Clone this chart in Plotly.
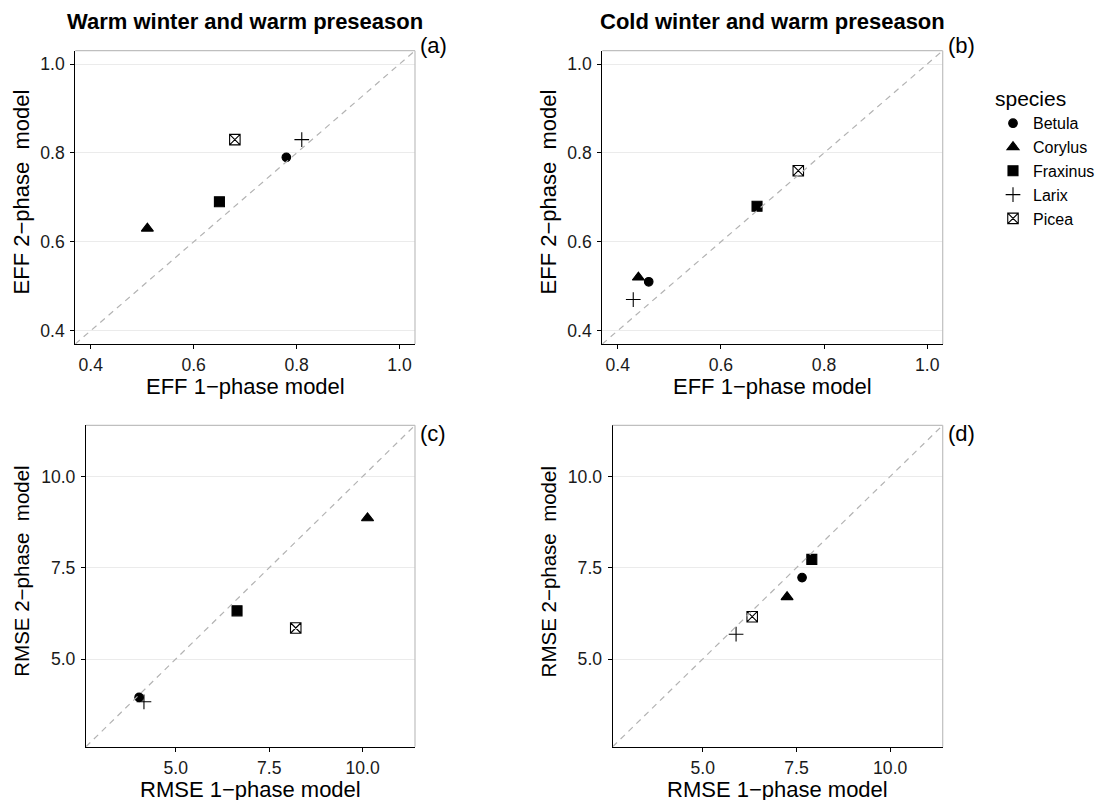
import plotly.graph_objects as go

W, H = 1103, 800
OFF = 8  # default page margin of the html body

species = ["Betula", "Corylus", "Fraxinus", "Larix", "Picea"]
symbols = ["circle", "triangle-up", "square", "cross-thin-open", "square-x-open"]
sizes = [8.6, 10.5, 10, 10.5, 10.5]

eff1_warm = [0.78, 0.51, 0.65, 0.81, 0.68]
eff2_warm = [0.79, 0.63, 0.69, 0.83, 0.83]
eff1_cold = [0.46, 0.44, 0.67, 0.43, 0.75]
eff2_cold = [0.51, 0.52, 0.68, 0.47, 0.76]
rmse1_warm = [4.02, 10.13, 6.64, 4.15, 8.21]
rmse2_warm = [3.95, 8.86, 6.32, 3.83, 5.85]
rmse1_cold = [7.65, 7.25, 7.91, 5.89, 6.32]
rmse2_cold = [7.23, 6.70, 7.73, 5.68, 6.16]

eff_ticks = [0.4, 0.6, 0.8, 1.0]
rmse_ticks = [5.0, 7.5, 10.0]
eff_range = [0.37, 1.03]
rmse_range = [2.6, 11.4]

titles = ["Warm winter and warm preseason", "Cold winter and warm preseason"]
tags = ["(a)", "(b)", "(c)", "(d)"]

FONT = "Liberation Sans, Arial, Helvetica, sans-serif"

# panel boxes in page pixels: left, right, top, bottom
boxes = [
    (75.3, 415.0, 50.7, 344.0),
    (602.3, 942.7, 50.7, 344.0),
    (86.0, 415.0, 425.3, 746.7),
    (612.7, 942.7, 425.3, 746.7),
]

panels = [
    (eff1_warm, eff2_warm, eff_range, eff_ticks, "EFF"),
    (eff1_cold, eff2_cold, eff_range, eff_ticks, "EFF"),
    (rmse1_warm, rmse2_warm, rmse_range, rmse_ticks, "RMSE"),
    (rmse1_cold, rmse2_cold, rmse_range, rmse_ticks, "RMSE"),
]


def px_x(p):
    return (p - OFF) / W


def px_y(p):
    return 1 - (p - OFF) / H


fig = go.Figure()
layout = dict(
    width=W, height=H,
    margin=dict(l=0, r=0, t=0, b=0),
    paper_bgcolor="white", plot_bgcolor="white",
    font=dict(family=FONT, color="black", size=17.6),
    showlegend=True,
    legend=dict(
        title=dict(text="species", font=dict(size=21, family=FONT)),
        font=dict(size=16, family=FONT),
        x=px_x(993), xanchor="left",
        y=px_y(79), yanchor="top",
        bgcolor="rgba(0,0,0,0)",
        tracegroupgap=0,
        itemclick=False,
    ),
)
shapes = []
annotations = []

for i, (xv, yv, rng, ticks, name) in enumerate(panels):
    n = "" if i == 0 else str(i + 1)
    L, R, T, B = boxes[i]
    xa = "xaxis" + n
    ya = "yaxis" + n
    common = dict(
        range=rng, tickvals=ticks, tickformat=".1f",
        ticks="outside", ticklen=4, tickwidth=1, tickcolor="black",
        showline=True, linecolor="black", linewidth=1.2,
        zeroline=False, tickfont=dict(size=17.6, color="#1a1a1a"),
        fixedrange=True,
    )
    layout[xa] = dict(common, domain=[px_x(L), px_x(R)], anchor="y" + n,
                      showgrid=False, ticklabelstandoff=1)
    layout[ya] = dict(common, domain=[px_y(B), px_y(T)], anchor="x" + n,
                      showgrid=True, gridcolor="#ebebeb", gridwidth=1,
                      ticklabelstandoff=2)
    for k, sp in enumerate(species):
        fig.add_trace(go.Scatter(
            x=[xv[k]], y=[yv[k]], mode="markers", name=sp,
            showlegend=(i == 0),
            xaxis="x" + n, yaxis="y" + n,
            marker=dict(symbol=symbols[k], size=sizes[k], color="black",
                        line=dict(color="black", width=1.1)),
            hoverinfo="x+y+name",
        ))
    # grey top/right borders
    shapes.append(dict(type="line", xref=f"x{n} domain", yref=f"y{n} domain",
                       x0=0, x1=1, y0=1, y1=1,
                       line=dict(color="#bfbfbf", width=1.2)))
    shapes.append(dict(type="line", xref=f"x{n} domain", yref=f"y{n} domain",
                       x0=1, x1=1, y0=0, y1=1,
                       line=dict(color="#bfbfbf", width=1.2)))
    # 1:1 reference line across the panel
    shapes.append(dict(type="line", xref="x" + n, yref="y" + n,
                       x0=rng[0], y0=rng[0], x1=rng[1], y1=rng[1],
                       line=dict(color="#b3b3b3", width=1.2, dash="6px,5px")))
    # axis titles
    cx = (L + R) / 2
    annotations.append(dict(text=f"{name} 1\u2212phase model", xref="paper", yref="paper",
                            x=px_x(cx), y=px_y(B + 42.7), xanchor="center", yanchor="middle",
                            showarrow=False, font=dict(size=22, family=FONT)))
    ty = 191.7 if i < 2 else 571.7
    tx = L - 53.6 if i < 2 else L - 64.0
    ysize = 22 if i < 2 else 20.5
    annotations.append(dict(text=f"{name} 2\u2212phase\u00a0 model", xref="paper", yref="paper",
                            x=px_x(tx), y=px_y(ty), xanchor="center", yanchor="middle",
                            textangle=-90, showarrow=False,
                            font=dict(size=ysize, family=FONT)))
    # panel tags
    tag_y = 45 if i < 2 else 433
    annotations.append(dict(text=tags[i], xref="paper", yref="paper",
                            x=px_x(R + 3), y=px_y(tag_y), xanchor="left", yanchor="middle",
                            showarrow=False, font=dict(size=22, family=FONT)))
    if i < 2:
        annotations.append(dict(text=f"<b>{titles[i]}</b>", xref="paper", yref="paper",
                                x=px_x(cx), y=px_y(22), xanchor="center", yanchor="middle",
                                showarrow=False, font=dict(size=22, family=FONT)))

layout["shapes"] = shapes
layout["annotations"] = annotations
fig.update_layout(**layout)
fig.write_html("out.html")
